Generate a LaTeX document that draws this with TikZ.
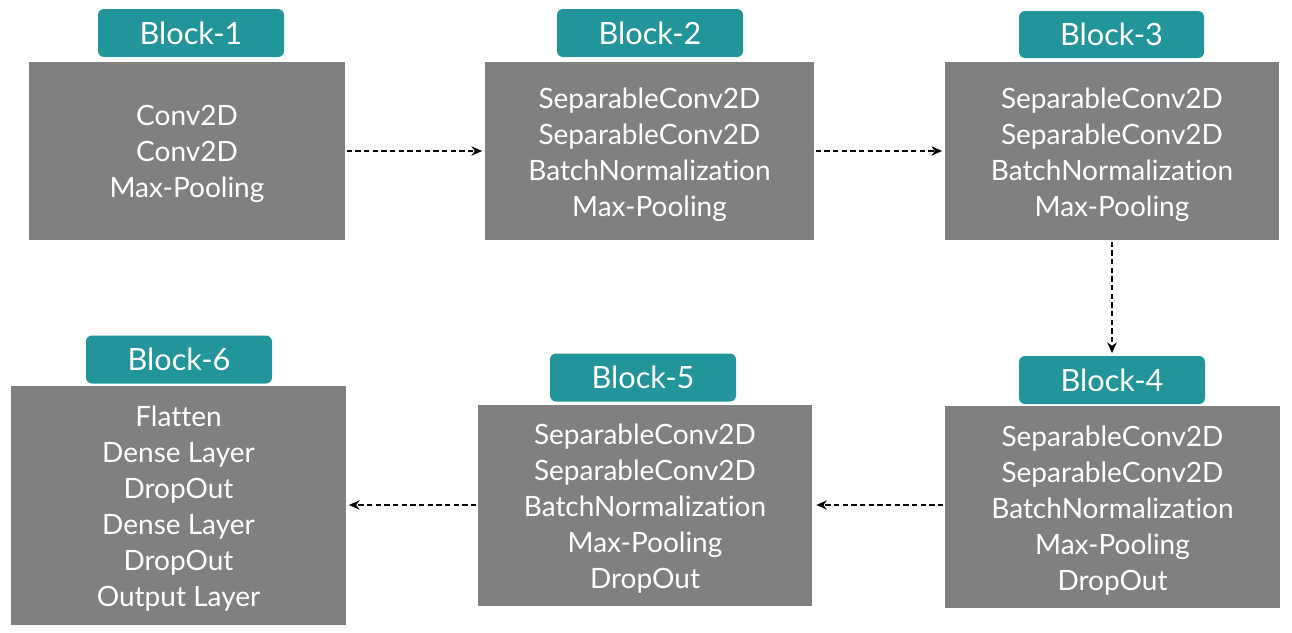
\documentclass[tikz,border=0pt]{standalone}
\usepackage{fontspec}
\setmainfont[Ligatures={NoCommon}]{Lato}
\usetikzlibrary{arrows.meta}
\definecolor{boxgray}{RGB}{128,128,128}
\definecolor{teal}{RGB}{33,149,153}
\tikzset{
  layerbox/.style={draw=none, fill=boxgray, inner sep=0pt},
  layertext/.style={text=white, align=center, inner sep=0pt, yshift=-2.5pt,
    font=\fontsize{21}{27}\selectfont},
  blocklabel/.style={draw=none, fill=teal, text=white, rounded corners=4.5pt, inner sep=0pt,
    font=\fontsize{23}{27}\selectfont},
  flow/.style={draw=black, dashed, line width=0.9pt, dash pattern=on 4pt off 2.5pt, -{Stealth[length=8pt,width=7pt]}}
}
\begin{document}
\begin{tikzpicture}[x=0.75pt,y=-0.75pt]
\useasboundingbox (0,0) rectangle (1292,632);
% boxes
\node[layerbox, minimum width=316*0.75pt, minimum height=178*0.75pt] (b1) at (187,151) {};
\node[layerbox, minimum width=329*0.75pt, minimum height=178*0.75pt] (b2) at (649.5,151) {};
\node[layerbox, minimum width=334*0.75pt, minimum height=178*0.75pt] (b3) at (1112,151) {};
\node[layerbox, minimum width=335*0.75pt, minimum height=202*0.75pt] (b4) at (1112.5,507) {};
\node[layerbox, minimum width=334*0.75pt, minimum height=201*0.75pt] (b5) at (645,505.5) {};
\node[layerbox, minimum width=335*0.75pt, minimum height=239*0.75pt] (b6) at (178.5,505.5) {};
% box texts
\node[layertext] (t1) at (b1.center) {Conv2D\\Conv2D\\Max-Pooling};
\node[layertext] (t2) at (b2.center) {SeparableConv2D\\SeparableConv2D\\BatchNormalization\\Max-Pooling};
\node[layertext] (t3) at (b3.center) {SeparableConv2D\\SeparableConv2D\\BatchNormalization\\Max-Pooling};
\node[layertext] (t4) at (b4.center) {SeparableConv2D\\SeparableConv2D\\BatchNormalization\\Max-Pooling\\DropOut};
\node[layertext] (t5) at (b5.center) {SeparableConv2D\\SeparableConv2D\\BatchNormalization\\Max-Pooling\\DropOut};
\node[layertext] (t6) at (b6.center) {Flatten\\Dense Layer\\DropOut\\Dense Layer\\DropOut\\Output Layer};
% labels
\node[blocklabel, minimum width=186*0.75pt, minimum height=48*0.75pt] (l1) at (191,33) {Block-1};
\node[blocklabel, minimum width=186*0.75pt, minimum height=48*0.75pt] (l2) at (650,33) {Block-2};
\node[blocklabel, minimum width=185*0.75pt, minimum height=47*0.75pt] (l3) at (1111.5,34.5) {Block-3};
\node[blocklabel, minimum width=186*0.75pt, minimum height=48*0.75pt] (l4) at (1112,380) {Block-4};
\node[blocklabel, minimum width=186*0.75pt, minimum height=48*0.75pt] (l5) at (643,377.5) {Block-5};
\node[blocklabel, minimum width=186*0.75pt, minimum height=48*0.75pt] (l6) at (179,359.5) {Block-6};
% connectors
\draw[flow, shorten <=1pt, shorten >=2pt] (b1.east) -- (b2.west);
\draw[flow, shorten <=1pt, shorten >=2pt] (b2.east) -- (b3.west);
\draw[flow, shorten <=1pt, shorten >=2pt] (b3.south) -- (l4.north);
\draw[flow, shorten <=1pt, shorten >=3pt] (b4.west |- 0,505) -- (b5.east |- 0,505);
\draw[flow, shorten <=1pt, shorten >=2pt] (b5.west |- 0,505) -- (b6.east |- 0,505);
\end{tikzpicture}
\end{document}
